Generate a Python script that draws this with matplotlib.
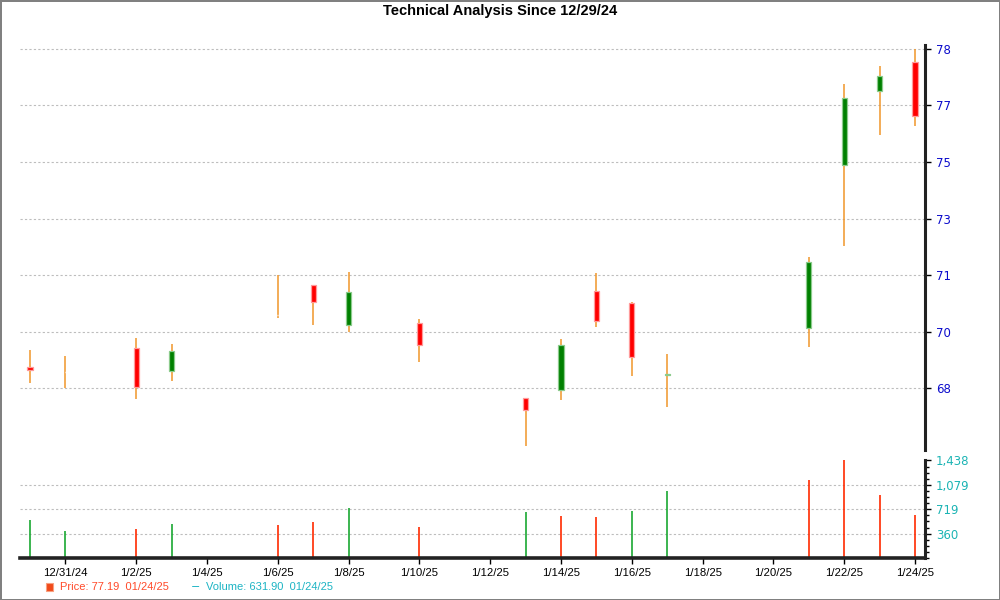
import matplotlib
matplotlib.use("Agg")
import matplotlib.pyplot as plt
import matplotlib.dates as mdates
from matplotlib.patches import Rectangle
from matplotlib.ticker import FixedLocator, AutoMinorLocator, NullLocator
import pandas as pd

# ---------------- data ----------------
dates = ['2024-12-30', '2024-12-31', '2025-01-02', '2025-01-03', '2025-01-06',
         '2025-01-07', '2025-01-08', '2025-01-10', '2025-01-13', '2025-01-14',
         '2025-01-15', '2025-01-16', '2025-01-17', '2025-01-21', '2025-01-22',
         '2025-01-23', '2025-01-24']
opens  = [68.69, 68.53, 69.24, 68.56, 70.25, 71.14, 69.94, 70.00, 67.74, 67.99,
          70.98, 70.60, 68.45, 69.85, 74.76, 76.98, 77.87]
highs  = [69.19, 69.01, 69.55, 69.37, 71.45, 71.14, 71.53, 70.12, 67.74, 69.52,
          71.50, 70.65, 69.06, 71.98, 77.19, 77.74, 78.24]
lows   = [68.20, 68.05, 67.71, 68.27, 70.15, 69.95, 69.74, 68.84, 66.31, 67.69,
          69.89, 68.41, 67.49, 69.29, 72.33, 75.67, 75.93]
closes = [68.59, 68.53, 68.07, 69.17, 70.25, 70.63, 70.95, 69.33, 67.39, 69.35,
          70.07, 68.97, 68.48, 71.85, 76.78, 77.45, 76.22]
volumes = [564, 403, 432, 505, 491, 535, 735, 461, 681, 623, 608, 696, 989,
           1150, 1438, 930, 632]
volume_up = [1, 1, 0, 1, 0, 0, 1, 0, 1, 0, 0, 1, 1, 0, 0, 0, 0]

price_ticks = [68.05, 69.75, 71.45, 73.15, 74.85, 76.55, 78.25]
price_tick_labels = ['68', '70', '71', '73', '75', '77', '78']
volume_ticks = [359.5, 719, 1078.5, 1438]
volume_tick_labels = ['360', '719', '1,079', '1,438']
xtick_dates = ['2024-12-31', '2025-01-02', '2025-01-04', '2025-01-06', '2025-01-08',
               '2025-01-10', '2025-01-12', '2025-01-14', '2025-01-16', '2025-01-18',
               '2025-01-20', '2025-01-22', '2025-01-24']
xtick_labels = ['12/31/24', '1/2/25', '1/4/25', '1/6/25', '1/8/25', '1/10/25', '1/12/25',
                '1/14/25', '1/16/25', '1/18/25', '1/20/25', '1/22/25', '1/24/25']
title = 'Technical Analysis Since 12/29/24'
legend_price = 'Price: 77.19  01/24/25'
legend_volume = 'Volume: 631.90  01/24/25'

# ---------------- style ----------------
W, H = 1000, 600
fig = plt.figure(figsize=(10, 6), dpi=100)
fig.patch.set_facecolor('white')
fig.patch.set_edgecolor('#808080')
fig.patch.set_linewidth(2.0)

def fx(px):
    return px / W

def fy(py):
    return 1 - py / H

left, right = 20, 925
ax = fig.add_axes([fx(left), fy(450), fx(right - left), (450 - 45) / H])
axv = fig.add_axes([fx(left), fy(558), fx(right - left), (558 - 460) / H])

x = mdates.date2num(pd.to_datetime(dates))
xmin, xmax = x[0] - 0.282, x[-1] + 0.282

WICK = '#F0962A'
body_w = 0.15
for xi, o, h, l, c in zip(x, opens, highs, lows, closes):
    ax.vlines(xi, l, h, color=WICK, linewidth=1.1, zorder=2)
    if abs(c - o) < 1e-9:
        ax.hlines(o, xi - 0.01, xi + 0.01, color='white', linewidth=1.0, zorder=3)
        continue
    if c > o:
        fc, ec = '#008000', '#8CCB8C'
    else:
        fc, ec = '#FF0000', '#FF9A9A'
    ax.add_patch(Rectangle((xi - body_w / 2, min(o, c)), body_w, abs(c - o),
                           facecolor=fc, edgecolor=ec, linewidth=0.9, zorder=3))

ax.set_xlim(xmin, xmax)
ax.set_ylim(66.185, 78.37)
ax.yaxis.tick_right()
ax.set_yticks(price_ticks)
ax.set_yticklabels(price_tick_labels)
ax.xaxis.set_major_locator(NullLocator())
ax.tick_params(axis='y', direction='out', length=4, width=1, pad=4,
               labelsize=8.5, colors='black')
for lab in ax.get_yticklabels():
    lab.set_color('#0C0CCC')
    lab.set_fontfamily('DejaVu Sans')
ax.grid(axis='y', color='#BDBDBD', linestyle=(0, (2, 2)), linewidth=0.8)
ax.set_axisbelow(True)
for s in ['left', 'top', 'bottom']:
    ax.spines[s].set_visible(False)
ax.spines['right'].set_linewidth(2.2)
ax.spines['right'].set_color('#222222')

# volume
vcols = ['#1AA832' if u else '#FF2A00' for u in volume_up]
axv.vlines(x, 0, volumes, colors=vcols, linewidth=1.2, zorder=2)
axv.set_xlim(xmin, xmax)
axv.set_ylim(0, 1445)
axv.yaxis.tick_right()
axv.yaxis.set_major_locator(FixedLocator(volume_ticks))
axv.yaxis.set_minor_locator(AutoMinorLocator(4))
axv.set_yticklabels(volume_tick_labels)
axv.tick_params(axis='y', which='major', direction='out', length=4, width=1, pad=4,
                labelsize=8.5, labelcolor='#1CB4B4')
axv.tick_params(axis='y', which='minor', direction='out', length=3, width=1)
for t in volume_ticks[:-1]:
    axv.axhline(t, color='#BDBDBD', linestyle=(0, (2, 2)), linewidth=0.8, zorder=1)
axv.set_xticks(mdates.date2num(pd.to_datetime(xtick_dates)))
axv.set_xticklabels(xtick_labels)
axv.tick_params(axis='x', direction='out', length=4, width=1, pad=3, labelsize=8,
                labelcolor='black')
for lab in axv.get_yticklabels():
    lab.set_fontfamily('DejaVu Sans')
for lab in axv.get_xticklabels():
    lab.set_fontfamily('Liberation Sans')
    lab.set_fontsize(8.2)
for s in ['left', 'top']:
    axv.spines[s].set_visible(False)
axv.spines['right'].set_linewidth(2.2)
axv.spines['right'].set_color('#222222')
axv.spines['bottom'].set_linewidth(2.6)
axv.spines['bottom'].set_color('#222222')

# title
fig.text(0.5, fy(10.5), title, ha='center', va='center', fontsize=10.5,
         fontweight='bold', family='Liberation Sans', color='black')

# legend
ly = fy(587)
fig.patches.append(Rectangle((fx(45.5), fy(591)), fx(7.5), 8 / H, transform=fig.transFigure,
                             facecolor='#F04A1A', edgecolor='#F8A080', linewidth=0.8))
fig.text(fx(60), ly, legend_price, ha='left', va='center', fontsize=8,
         family='Liberation Sans', color='#FF4A2A')
fig.text(fx(196), ly, '\u2212', ha='center', va='center', fontsize=8,
         family='DejaVu Sans', color='#1CB4C4')
fig.text(fx(206), ly, legend_volume, ha='left', va='center', fontsize=8,
         family='Liberation Sans', color='#1CB4C4')

fig.savefig('out.png', dpi=100, facecolor=fig.get_facecolor(), edgecolor=fig.get_edgecolor())
